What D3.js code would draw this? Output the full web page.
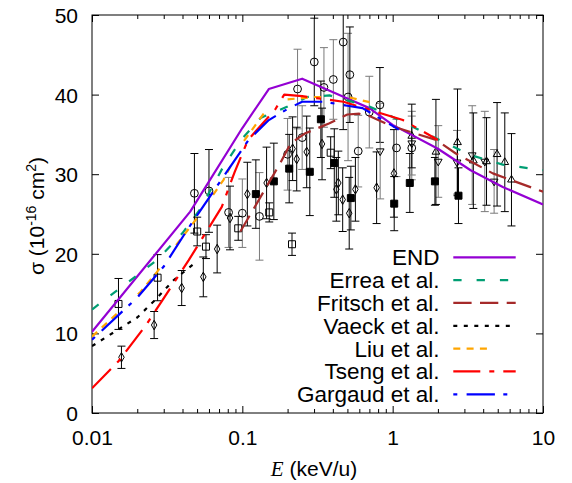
<!DOCTYPE html>
<html>
<head>
<meta charset="utf-8">
<script src="https://cdn.jsdelivr.net/npm/d3@7"></script>
<style>
  html, body { margin: 0; padding: 0; background: #fff; }
  svg { display: block; }
  text { font-family: "Liberation Sans", Arial, Helvetica, sans-serif; }
</style>
</head>
<body>
<div id="chart"></div>
<script>
// ---- Theory curves: [E (keV/u), sigma (1e-16 cm^2)] ----
const endCurve = [[0.01,10.2],[0.045,25.3],[0.1,35.8],[0.15,40.7],[0.25,42.0],[0.5,39.5],[0.7,38.3],[1,36.2],[2,33.2],[3.3,30.5],[5.4,28.4],[10,26.2]];
const erreaCurve = [[0.01,13.0],[0.027,19.2],[0.04,22.6],[0.052,25.5],[0.075,31.0],[0.1,34.5],[0.133,37.1],[0.2,38.5],[0.27,39.7],[0.38,39.9],[0.7,38.5],[0.95,37.4],[2.5,33.5],[3.3,32.4],[5.4,31.2],[10,30.5]];
const fritschCurve = [[0.097,22.8],[0.13,26.9],[0.18,31.5],[0.21,33.9],[0.26,35.1],[0.38,36.4],[0.5,37.5],[0.6,37.6],[0.7,37.3],[1.0,36.0],[1.95,34.3],[2.63,32.6],[4.64,30.1],[10,27.8]];
const vaeckCurve = [[0.01,8.4],[0.02,12.0],[0.0263,14.2],[0.035,16.7],[0.048,18.8]];
const liuCurve = [[0.01,9.6],[0.021,15.2],[0.027,17.7],[0.037,21.3],[0.05,24.5],[0.075,29.3],[0.1,33.9],[0.15,38.5],[0.2,39.4],[0.3,39.7],[0.5,39.7],[0.72,39.0]];
const tsengCurve = [[0.01,3.1],[0.015,6.5],[0.023,11.1],[0.029,14.0],[0.044,19.2],[0.073,25.9],[0.089,30.3],[0.109,34.3],[0.165,38.1],[0.19,40.0],[0.25,39.8],[0.47,39.1],[0.7,38.1],[1.17,36.8],[2.0,34.3]];
const gargaudCurve = [[0.01,9.2],[0.02,14.5],[0.03,18.4],[0.043,23.0],[0.052,25.3],[0.075,29.7],[0.11,34.3],[0.15,36.8],[0.2,38.2],[0.25,39.1],[0.35,39.1],[0.5,38.6],[0.63,38.3],[1.1,35.6]];

// ---- Measurements: [E, sigma, error] ----
const circlesGray = [[0.081,25.2,4.4],[0.100,25.1,4.3],[0.130,24.7,5.5],[0.200,32.5,4.5],[0.233,40.7,5.0],[0.250,34.6,4.0],[0.349,40.9,5.0],[0.403,41.9,5.0],[0.505,39.7,8.0],[0.590,32.9,4.5],[0.699,37.8,4.5],[1.06,33.3,3.6],[1.34,33.3,4.0]];
const circlesBlack = [[0.048,27.6,5.0],[0.060,27.9,5.2],[0.301,44.1,5.5],[0.469,46.6,11.0],[0.519,42.5,6.0],[0.822,38.7,4.7]];
const openSquares = [[0.015,13.7,3.2],[0.0273,17.0,2.9],[0.0501,22.8,1.8],[0.0573,20.9,1.5],[0.0939,23.2,1.5],[0.151,25.2,1.2],[0.214,21.2,1.4],[0.387,32.7,2.0]];
const diamonds = [[0.0157,7.0,1.4],[0.0259,11.05,1.7],[0.0395,15.7,2.2],[0.055,17.1,2.5],[0.068,20.6,3.0],[0.0828,24.5,4.0],[0.108,27.5,4.0],[0.145,28.9,4.5],[0.216,33.2,4.0],[0.230,31.9,4.0],[0.268,32.8,4.5],[0.339,33.8,4.5],[0.422,28.1,4.0],[0.435,28.9,4.0],[0.465,26.8,4.0],[0.514,25.1,4.5],[0.565,28.1,4.0],[0.782,28.3,4.5],[1.02,30.1,5.5]];
const filledSquares = [[0.123,27.5,4.3],[0.162,29.1,4.8],[0.205,30.7,4.3],[0.281,30.3,5.5],[0.333,36.9,4.8],[0.409,31.4,4.3],[0.527,27.0,4.0],[1.024,26.3,3.4],[1.30,28.9,3.7],[1.91,29.1,3.0],[2.74,27.3,3.5]];
const downTriangles = [[0.826,32.9,6.0],[1.34,33.9,4.0],[2.01,31.6,4.5],[2.68,31.5,4.0],[3.38,32.4,6.2],[4.10,31.6,6.3],[4.73,29.1,4.0]];
const upTriangles = [[1.34,34.8,4.0],[1.94,32.8,6.6],[2.70,34.0,6.7],[3.44,31.7,6.0],[4.21,31.6,5.5],[4.95,32.5,6.5],[5.57,31.5,6.2],[6.17,29.3,5.8]];

// ---- Axis ticks ----
const xMajorTicks = [0.01, 0.1, 1, 10];
const xTickLabels = ["0.01", "0.1", "1", "10"];
const yMajorTicks = [0, 10, 20, 30, 40, 50];

// ---- Legend entries ----
const legendNames = ["END", "Errea et al.", "Fritsch et al.", "Vaeck et al.", "Liu et al.", "Tseng et al.", "Gargaud et al."];

const W = 572, H = 483;
const mLeft = 92, mRight = 543, mTop = 15, mBottom = 413;

const svg = d3.select("#chart").append("svg").attr("width", W).attr("height", H);
svg.append("rect").attr("width", W).attr("height", H).attr("fill", "#fff");

const x = d3.scaleLog().domain([0.01, 10]).range([mLeft, mRight]);
const y = d3.scaleLinear().domain([0, 50]).range([mBottom, mTop]);

svg.append("defs").append("clipPath").attr("id", "plotclip")
  .append("rect").attr("x", mLeft).attr("y", mTop).attr("width", mRight - mLeft).attr("height", mBottom - mTop);

// minor ticks on the log axis
const xMinorTicks = [];
[0.01, 0.1, 1].forEach(d => { for (let k = 2; k <= 9; k++) xMinorTicks.push(d * k); });

function styleAxis(g) {
  g.select(".domain").remove();
  g.selectAll("line").attr("stroke", "#000").attr("stroke-width", 1);
  g.selectAll("text").attr("fill", "#000").style("font-size", "21px");
}

// bottom
svg.append("g").attr("transform", `translate(0,${mBottom})`)
  .call(d3.axisBottom(x).tickValues(xMajorTicks).tickSize(-7)
    .tickFormat((d, i) => xTickLabels[i]))
  .call(styleAxis)
  .call(g => g.selectAll("text").attr("y", 31.5).attr("dy", 0));
svg.append("g").attr("transform", `translate(0,${mBottom})`)
  .call(d3.axisBottom(x).tickValues(xMinorTicks).tickSize(-4).tickFormat(""))
  .call(styleAxis);
// top mirror
svg.append("g").attr("transform", `translate(0,${mTop})`)
  .call(d3.axisTop(x).tickValues(xMajorTicks).tickSize(-7).tickFormat(""))
  .call(styleAxis);
svg.append("g").attr("transform", `translate(0,${mTop})`)
  .call(d3.axisTop(x).tickValues(xMinorTicks).tickSize(-4).tickFormat(""))
  .call(styleAxis);
// left
svg.append("g").attr("transform", `translate(${mLeft},0)`)
  .call(d3.axisLeft(y).tickValues(yMajorTicks).tickSize(-7).tickPadding(14).tickFormat(d3.format("d")))
  .call(styleAxis)
  .call(g => g.selectAll("text").attr("dy", "0.36em"));
// right mirror
svg.append("g").attr("transform", `translate(${mRight},0)`)
  .call(d3.axisRight(y).tickValues(yMajorTicks).tickSize(-7).tickFormat(""))
  .call(styleAxis);

// frame
svg.append("rect").attr("x", mLeft).attr("y", mTop).attr("width", mRight - mLeft).attr("height", mBottom - mTop)
  .attr("fill", "none").attr("stroke", "#000").attr("stroke-width", 1);

// axis titles
const yl = svg.append("text").attr("transform", "translate(44,216) rotate(-90)")
  .attr("text-anchor", "middle").style("font-size", "21px").attr("fill", "#000");
yl.append("tspan").text("σ (10");
yl.append("tspan").attr("dy", "-8").style("font-size", "14px").text("-16");
yl.append("tspan").attr("dy", "8").text(" cm");
yl.append("tspan").attr("dy", "-8").style("font-size", "14px").text("2");
yl.append("tspan").attr("dy", "8").text(")");

const xl = svg.append("text").attr("x", 314).attr("y", 476).attr("text-anchor", "middle")
  .style("font-size", "21px").attr("fill", "#000");
xl.append("tspan").style("font-family", "'Liberation Serif', 'Times New Roman', serif").style("font-style", "italic").text("E");
xl.append("tspan").text(" (keV/u)");

// ---- data points ----
const plot = svg.append("g").attr("clip-path", "url(#plotclip)");

function errorBars(data, color) {
  const g = plot.append("g").attr("stroke", color).attr("stroke-width", 1);
  data.forEach(d => {
    const cx = x(d[0]), y1 = y(d[1] + d[2]), y2 = y(d[1] - d[2]);
    g.append("line").attr("x1", cx).attr("x2", cx).attr("y1", y1).attr("y2", y2);
    g.append("line").attr("x1", cx - 4).attr("x2", cx + 4).attr("y1", y1).attr("y2", y1);
    g.append("line").attr("x1", cx - 4).attr("x2", cx + 4).attr("y1", y2).attr("y2", y2);
  });
}
function markers(data, symbol, size, filled) {
  plot.append("g").selectAll("path").data(data).join("path")
    .attr("transform", d => `translate(${x(d[0])},${y(d[1])})`)
    .attr("d", d3.symbol().type(symbol).size(size))
    .attr("fill", filled ? "#000" : "none")
    .attr("stroke", "#000").attr("stroke-width", 1);
}

errorBars(circlesGray, "#7a7a7a");
errorBars(circlesBlack, "#000");
errorBars(openSquares, "#000");
errorBars(diamonds, "#000");
errorBars(filledSquares, "#000");
errorBars(downTriangles, "#7a7a7a");
errorBars(upTriangles, "#000");

const triDown = {
  draw(ctx, size) {
    const s = Math.sqrt(size / 0.433), h = s * 0.866;
    ctx.moveTo(-s / 2, -h / 3); ctx.lineTo(s / 2, -h / 3); ctx.lineTo(0, 2 * h / 3); ctx.closePath();
  }
};
markers(circlesGray, d3.symbolCircle, 48, false);
markers(circlesBlack, d3.symbolCircle, 48, false);
markers(openSquares, d3.symbolSquare, 49, false);
markers(diamonds, d3.symbolDiamond, 26, false);
markers(filledSquares, d3.symbolSquare, 49, true);
markers(downTriangles, triDown, 26, false);
markers(upTriangles, d3.symbolTriangle, 26, false);

// ---- theory curves ----
const curveStyles = [
  { data: endCurve, color: "#9400d3", dash: null },
  { data: erreaCurve, color: "#009e73", dash: "8.3,15" },
  { data: fritschCurve, color: "#a52a2a", dash: "18.3,8.4" },
  { data: vaeckCurve, color: "#000000", dash: "4,6.5" },
  { data: liuCurve, color: "#ffa500", dash: "7,6.3,7,6.3,7,28.8" },
  { data: tsengCurve, color: "#ff0000", dash: "27,9,5,9" },
  { data: gargaudCurve, color: "#0000ff", dash: "4,9.3,28.3,8.4" }
];
const line = d3.line().x(d => x(d[0])).y(d => y(d[1]));
curveStyles.forEach(c => {
  plot.append("path").datum(c.data).attr("d", line)
    .attr("fill", "none").attr("stroke", c.color).attr("stroke-width", 2.2)
    .attr("stroke-dasharray", c.dash).attr("stroke-linejoin", "round");
});

// ---- legend ----
const legend = svg.append("g");
legendNames.forEach((name, i) => {
  const ly = 257.3 + i * 22.83;
  legend.append("text").attr("x", 439.5).attr("y", ly + 8).attr("text-anchor", "end")
    .style("font-size", "22.5px").attr("fill", "#000").text(name);
  legend.append("line").attr("x1", 453.3).attr("x2", 515.7).attr("y1", ly).attr("y2", ly)
    .attr("stroke", curveStyles[i].color).attr("stroke-width", 2.2)
    .attr("stroke-dasharray", curveStyles[i].dash);
});
</script>
</body>
</html>
